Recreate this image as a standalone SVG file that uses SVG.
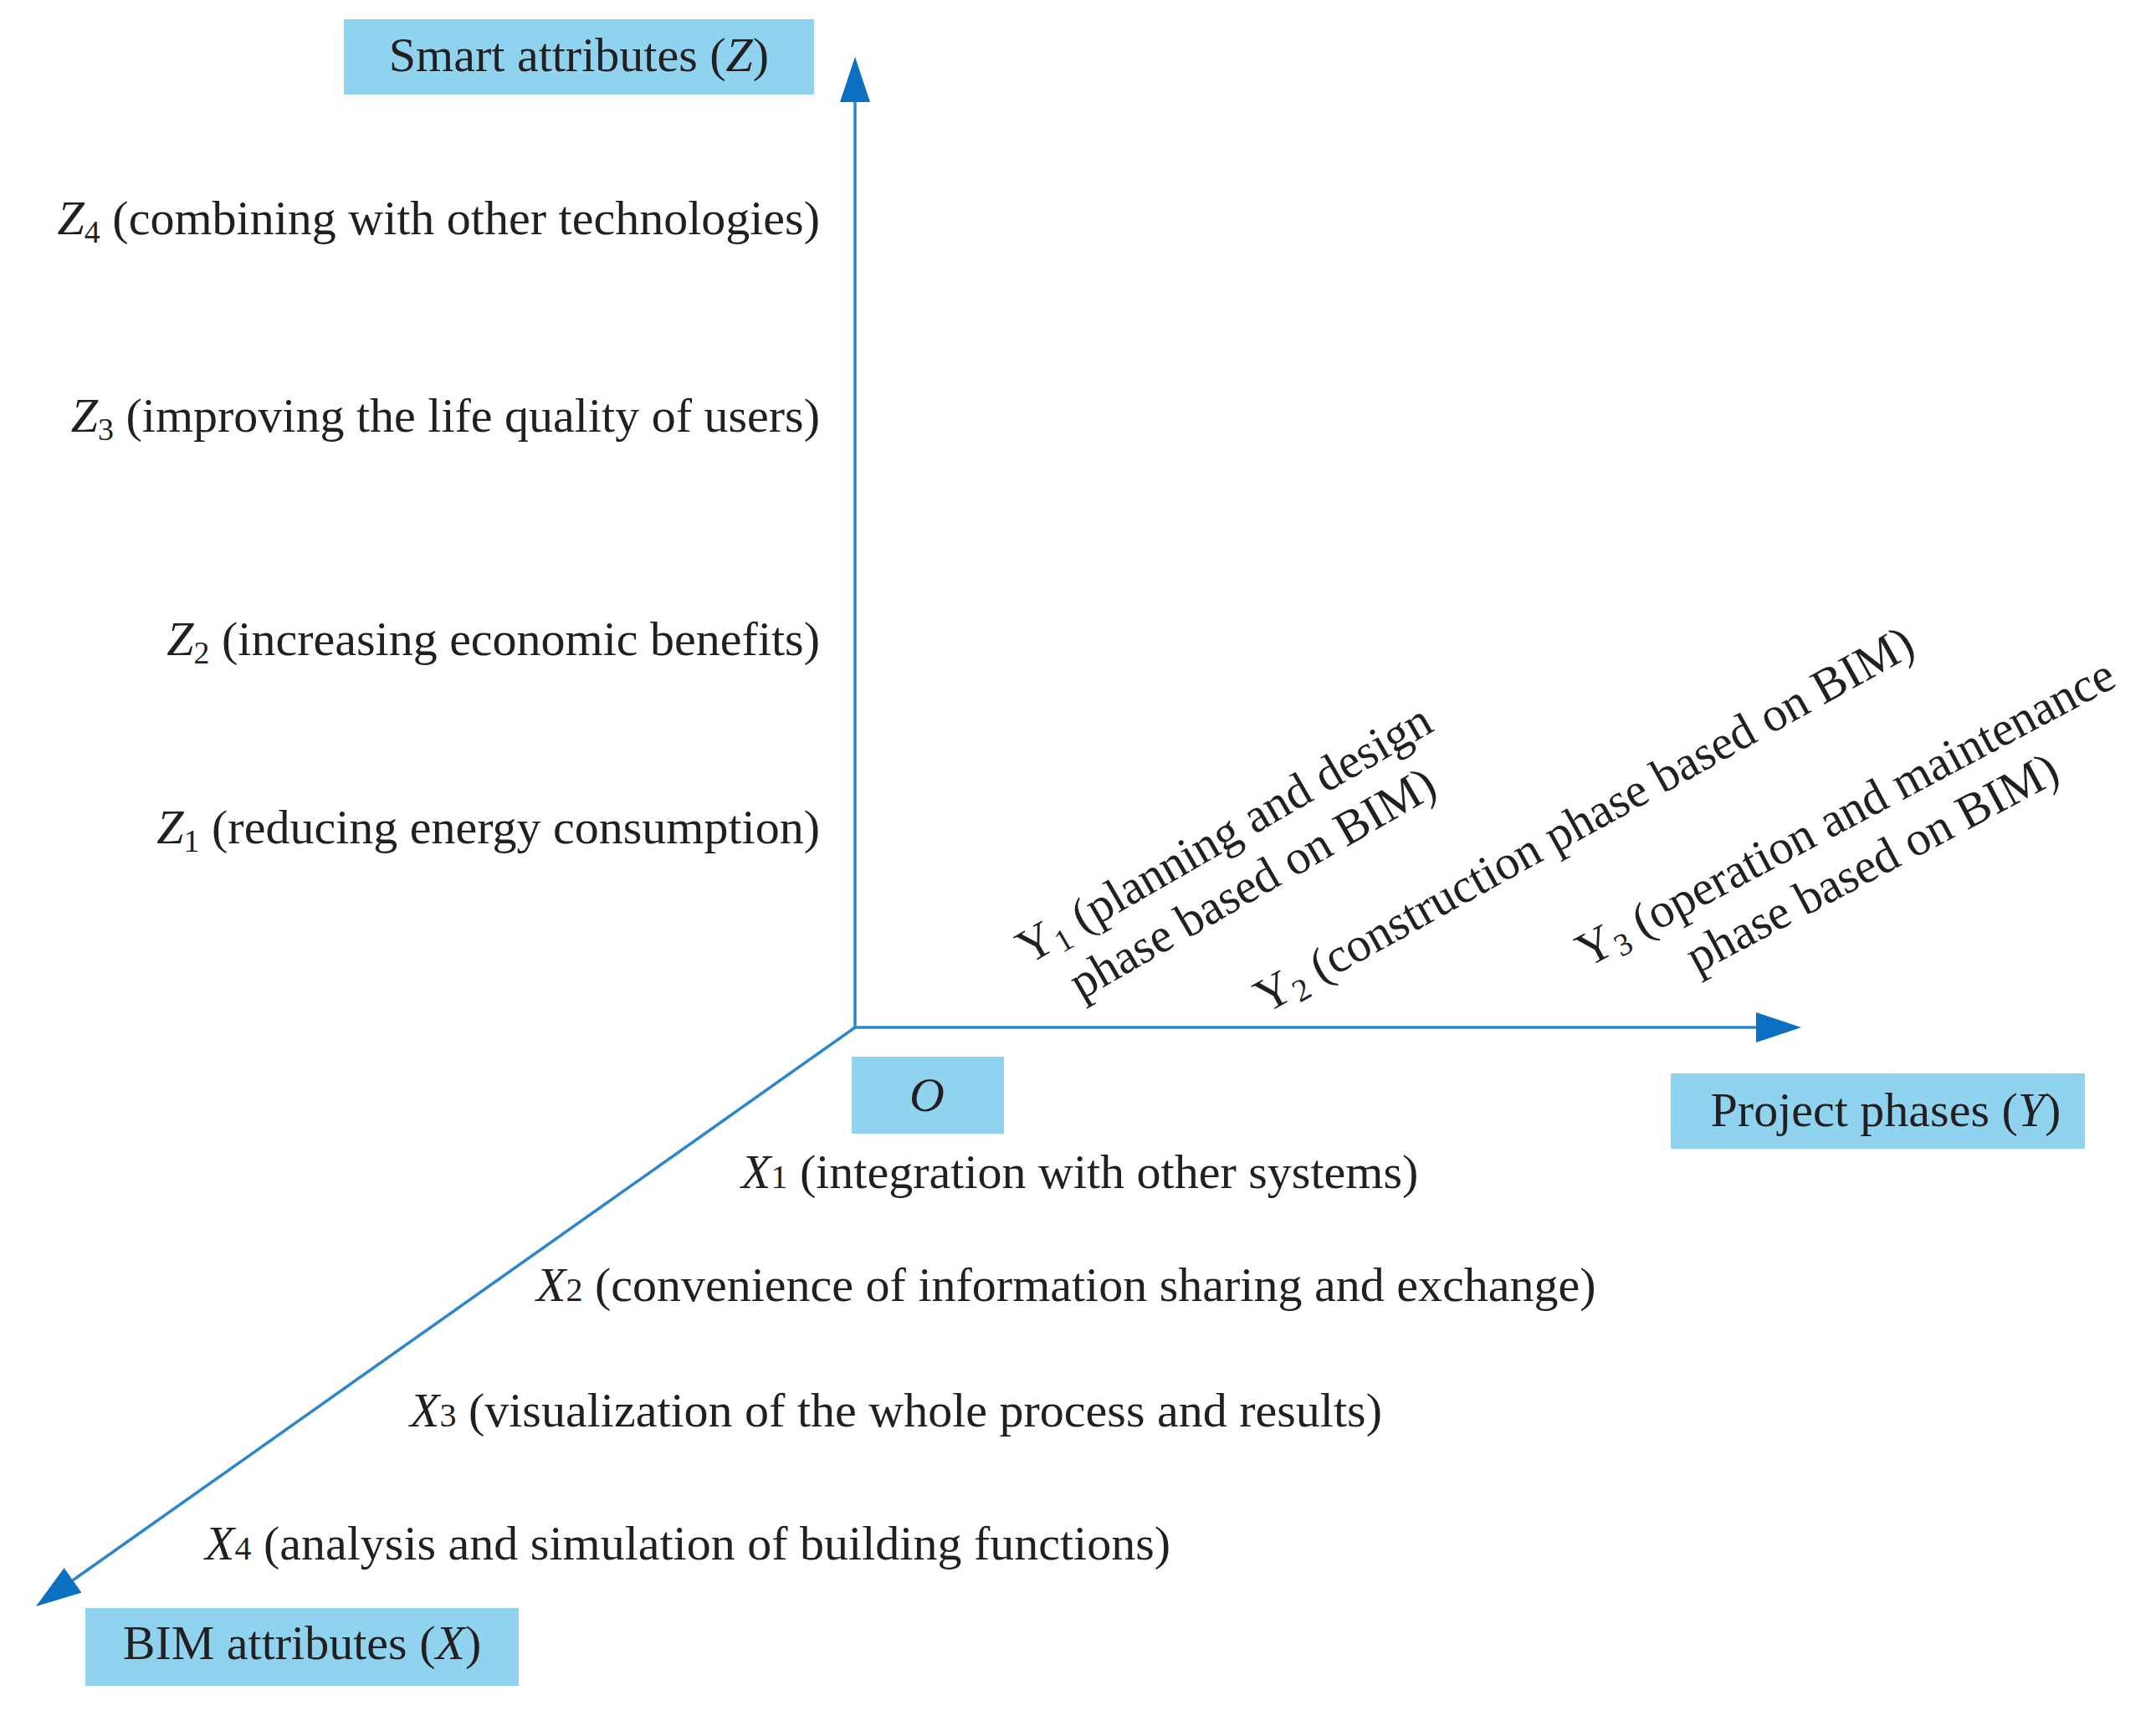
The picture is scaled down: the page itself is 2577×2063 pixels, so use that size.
<svg xmlns="http://www.w3.org/2000/svg" width="2577" height="2063" viewBox="0 0 2577 2063">
<style>
text{font-family:"Liberation Serif","DejaVu Serif",serif;font-size:58px;fill:#231f20}
.box{fill:#8fd3ee}
.axis{stroke:#2a86cc;stroke-width:3.5;fill:none}
.it{font-style:italic}
.mid{text-anchor:middle}
.end{text-anchor:end}
</style>
<defs>
<marker id="arrow" viewBox="0 -18 54 36" refX="0" refY="0" markerWidth="54" markerHeight="36" markerUnits="userSpaceOnUse" orient="auto">
<path d="M0,-18 L54,0 L0,18 z" fill="#0b70bf"/>
</marker>
</defs>
<rect width="2577" height="2063" fill="#ffffff"/>

<g id="connectors">
<path class="axis" d="M1022,1228 L1022,122" marker-end="url(#arrow)"/>
<path class="axis" d="M1022,1228 L2099,1228" marker-end="url(#arrow)"/>
<path class="axis" d="M1022,1228 L87.1,1888.8" marker-end="url(#arrow)"/>
</g>

<g id="smart-attributes">
<rect class="box" x="411" y="23" width="562" height="90"/>
<text class="mid" x="692" y="85">Smart attributes (<tspan class="it">Z</tspan>)</text>
</g>
<g id="project-phases">
<rect class="box" x="1997" y="1283" width="495" height="90"/>
<text class="mid" x="2254" y="1346">Project phases (<tspan class="it">Y</tspan>)</text>
</g>
<g id="bim-attributes">
<rect class="box" x="102" y="1922" width="518" height="93"/>
<text class="mid" x="361" y="1983">BIM attributes (<tspan class="it">X</tspan>)</text>
</g>
<g id="origin">
<rect class="box" x="1018" y="1263" width="182" height="92"/>
<text class="mid it" x="1108" y="1328">O</text>
</g>

<g id="z4"><text class="end" x="980" y="280"><tspan class="it">Z</tspan><tspan font-size="38" dy="10">4</tspan><tspan dy="-10"> (combining with other technologies)</tspan></text></g>
<g id="z3"><text class="end" x="980" y="516"><tspan class="it">Z</tspan><tspan font-size="38" dy="10">3</tspan><tspan dy="-10"> (improving the life quality of users)</tspan></text></g>
<g id="z2"><text class="end" x="980" y="783"><tspan class="it">Z</tspan><tspan font-size="38" dy="10">2</tspan><tspan dy="-10"> (increasing economic benefits)</tspan></text></g>
<g id="z1"><text class="end" x="980" y="1008"><tspan class="it">Z</tspan><tspan font-size="38" dy="10">1</tspan><tspan dy="-10"> (reducing energy consumption)</tspan></text></g>

<g id="y1" transform="translate(1230,1153) rotate(-30)">
<text class="mid" x="280" y="0">Y<tspan font-size="38" dy="8">1</tspan><tspan dy="-8"> (planning and design</tspan></text>
<text class="mid" x="280" y="68">phase based on BIM)</text>
</g>
<g id="y2" transform="translate(1513,1212) rotate(-29)">
<text x="0" y="0">Y<tspan font-size="38" dy="8">2</tspan><tspan dy="-8"> (construction phase based on BIM)</tspan></text>
</g>
<g id="y3" transform="translate(1895,1158) rotate(-28)">
<text class="mid" x="362" y="0">Y<tspan font-size="38" dy="8">3</tspan><tspan dy="-8"> (operation and maintenance</tspan></text>
<text class="mid" x="362" y="68">phase based on BIM)</text>
</g>

<g id="x1"><text x="886" y="1420"><tspan class="it">X</tspan><tspan font-size="40">1</tspan> (integration with other systems)</text></g>
<g id="x2"><text x="641" y="1555"><tspan class="it">X</tspan><tspan font-size="40">2</tspan> (convenience of information sharing and exchange)</text></g>
<g id="x3"><text x="490" y="1705"><tspan class="it">X</tspan><tspan font-size="40">3</tspan> (visualization of the whole process and results)</text></g>
<g id="x4"><text x="245" y="1864"><tspan class="it">X</tspan><tspan font-size="40">4</tspan> (analysis and simulation of building functions)</text></g>
</svg>
